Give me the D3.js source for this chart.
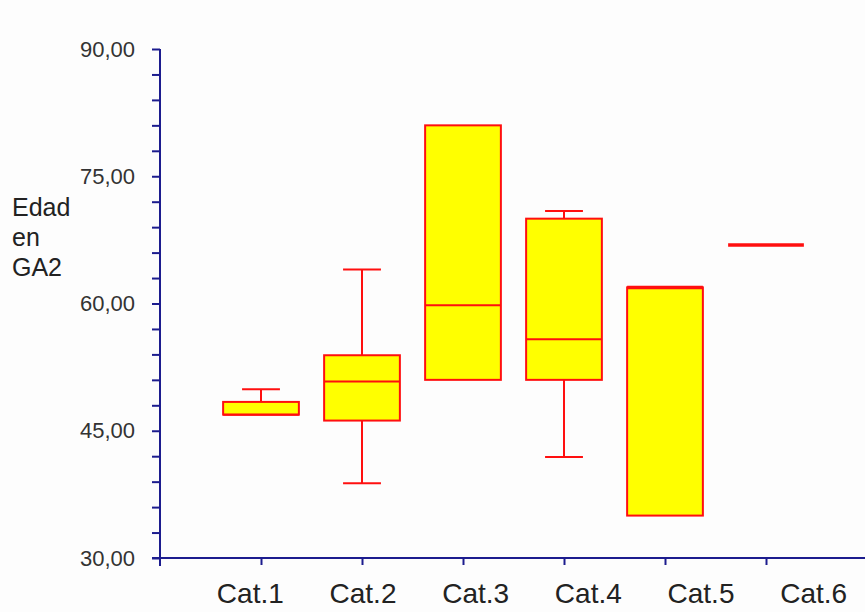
<!DOCTYPE html>
<html>
<head>
<meta charset="utf-8">
<script src="https://cdn.jsdelivr.net/npm/d3@7"></script>
<style>
  html, body { margin: 0; padding: 0; background: #fdfdfd; }
  svg { display: block; }
</style>
</head>
<body>
<svg id="chart" width="865" height="612"></svg>
<script>
// ---- data ----
const categories = ["Cat.1", "Cat.2", "Cat.3", "Cat.4", "Cat.5", "Cat.6"];
const mins    = [46.9, 38.8, 51.0, 41.9, 35.0, 66.9];
const q1s     = [46.9, 46.2, 51.0, 51.0, 35.0, 66.9];
const medians = [46.9, 50.8, 59.8, 55.8, 61.9, 66.9];
const q3s     = [48.4, 53.9, 81.0, 70.0, 61.9, 66.9];
const maxs    = [49.9, 64.0, 81.0, 70.9, 61.9, 66.9];
const yTickValues = d3.range(30, 90.001, 3);
const yLabelValues = [30, 45, 60, 75, 90];
const yTitle = ["Edad", "en", "GA2"];

// ---- layout ----
const svg = d3.select("#chart");
const axisColor = "#1c1c8e";
const font = "'Liberation Sans', Arial, sans-serif";
const x0 = 160, x1 = 867, yTop = 49, yBot = 558;

const x = d3.scalePoint().domain(categories).range([x0, x1]).padding(1);
// category labels are laid out on their own evenly spaced band
const xLabel = d3.scaleBand().domain(categories).range([194, 870]);
const y = d3.scaleLinear().domain([30, 90]).range([yBot, yTop]);
const boxW = x.step() * 0.75;
const capW = boxW / 2;

const data = categories.map((c, i) => ({
  cat: c, min: mins[i], q1: q1s[i], med: medians[i], q3: q3s[i], max: maxs[i]
}));

// y axis
const yAxis = d3.axisLeft(y)
  .tickValues(yTickValues)
  .tickSize(8)
  .tickPadding(17)
  .tickFormat(v => yLabelValues.some(l => Math.abs(l - v) < 1e-6) ? d3.format(".2f")(v).replace(".", ",") : "");
const gy = svg.append("g").attr("transform", `translate(${x0},0)`).call(yAxis);
gy.select(".domain").remove();
gy.selectAll(".tick line").attr("stroke", axisColor).attr("stroke-width", 2);
gy.selectAll(".tick text")
  .attr("fill", "#333")
  .style("font-family", font)
  .style("font-size", "22px");

// x axis ticks
const xAxis = d3.axisBottom(x).tickSize(7).tickFormat("");
const gx = svg.append("g").attr("transform", `translate(0,${yBot})`).call(xAxis);
gx.select(".domain").remove();
gx.selectAll(".tick line").attr("stroke", axisColor).attr("stroke-width", 2);

// x labels
svg.append("g").selectAll("text").data(categories).join("text")
  .attr("x", d => xLabel(d) + xLabel.bandwidth() / 2)
  .attr("y", 603)
  .attr("text-anchor", "middle")
  .attr("fill", "#222")
  .style("font-family", font)
  .style("font-size", "28px")
  .text(d => d);

// axis lines
svg.append("line").attr("x1", x0).attr("x2", x0).attr("y1", yTop).attr("y2", yBot + 8)
  .attr("stroke", axisColor).attr("stroke-width", 2);
svg.append("line").attr("x1", x0 - 8).attr("x2", 865).attr("y1", yBot).attr("y2", yBot)
  .attr("stroke", axisColor).attr("stroke-width", 2);

// y title
svg.append("text")
  .attr("x", 12).attr("y", 216)
  .attr("fill", "#222")
  .style("font-family", font)
  .style("font-size", "25px")
  .selectAll("tspan").data(yTitle).join("tspan")
  .attr("x", 12).attr("dy", (d, i) => i === 0 ? 0 : 30).text(d => d);

// boxes
const red = "#ff0f0f";
const g = svg.append("g");
data.forEach(d => {
  const cx = x(d.cat);
  const gg = g.append("g");
  // whiskers
  if (d.max > d.q3) {
    gg.append("line").attr("x1", cx).attr("x2", cx).attr("y1", y(d.q3)).attr("y2", y(d.max))
      .attr("stroke", red).attr("stroke-width", 2);
    gg.append("line").attr("x1", cx - capW / 2).attr("x2", cx + capW / 2).attr("y1", y(d.max)).attr("y2", y(d.max))
      .attr("stroke", red).attr("stroke-width", 2);
  }
  if (d.min < d.q1) {
    gg.append("line").attr("x1", cx).attr("x2", cx).attr("y1", y(d.q1)).attr("y2", y(d.min))
      .attr("stroke", red).attr("stroke-width", 2);
    gg.append("line").attr("x1", cx - capW / 2).attr("x2", cx + capW / 2).attr("y1", y(d.min)).attr("y2", y(d.min))
      .attr("stroke", red).attr("stroke-width", 2);
  }
  // box
  gg.append("rect")
    .attr("x", cx - boxW / 2).attr("width", boxW)
    .attr("y", y(d.q3)).attr("height", Math.max(0, y(d.q1) - y(d.q3)))
    .attr("fill", "#ffff00").attr("stroke", red).attr("stroke-width", 2);
  // median (drawn thicker when it sits on the top edge of the box)
  const onTop = Math.abs(d.med - d.q3) < 1e-6;
  gg.append("line")
    .attr("x1", cx - boxW / 2).attr("x2", cx + boxW / 2)
    .attr("y1", y(d.med)).attr("y2", y(d.med))
    .attr("stroke", red).attr("stroke-width", onTop ? 3.5 : 2);
});
</script>
</body>
</html>
